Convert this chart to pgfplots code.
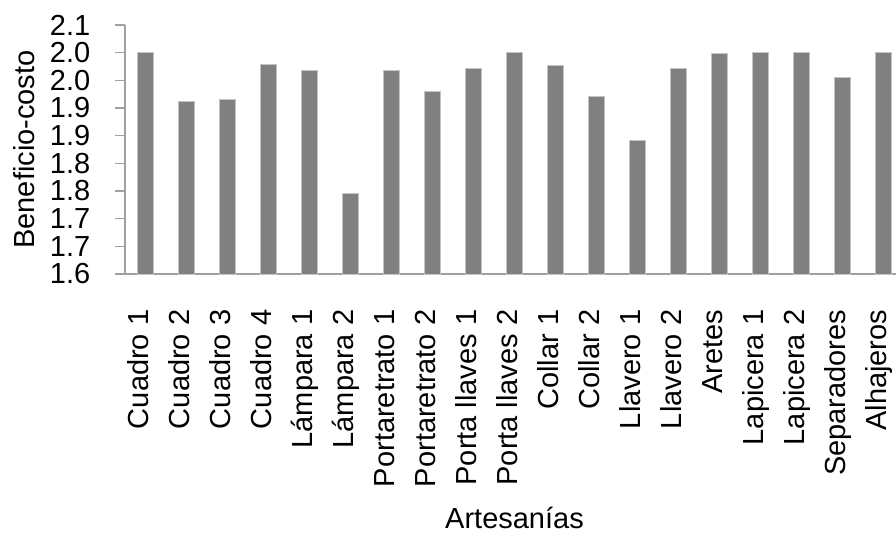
\documentclass[border=0pt]{standalone}
\usepackage{fontspec}
\setmainfont{Liberation Sans}
\usepackage{pgfplots}
\pgfplotsset{compat=1.18}
\definecolor{bargray}{HTML}{808080}
\definecolor{edgegray}{HTML}{C4C4C4}
\definecolor{axisgray}{HTML}{A0A0A0}
\begin{document}
\begin{tikzpicture}
\useasboundingbox (-125bp,-261bp) rectangle (771bp,274bp);
\clip (-125bp,-261bp) rectangle (771bp,274bp);
\begin{axis}[
  at={(0,0)}, anchor=south west,
  scale only axis, width=779bp, height=249bp,
  xmin=-0.5, xmax=18.5, ymin=1.6, ymax=2.05,
  ybar, bar width=16.4bp,
  xtick={0,...,18},
  xticklabels={Cuadro 1, Cuadro 2, Cuadro 3, Cuadro 4, Lámpara 1, Lámpara 2, Portaretrato 1, Portaretrato 2, Porta llaves 1, Porta llaves 2, Collar 1, Collar 2, Llavero 1, Llavero 2, Aretes, Lapicera 1, Lapicera 2, Separadores, Alhajeros},
  ytick={1.6,1.65,1.7,1.75,1.8,1.85,1.9,1.95,2.0,2.05},
  yticklabels={1.6,1.7,1.7,1.8,1.8,1.9,1.9,2.0,2.0,2.1},
  axis x line*=bottom, axis y line*=left,
  axis line style={axisgray, line width=1.5bp},
  tick align=outside,
  major tick length=9.5bp,
  ytick style={axisgray, line width=1.5bp},
  xtick style={draw=none},
  tick label style={font=\fontsize{29bp}{34bp}\selectfont},
  yticklabel style={anchor=east, inner sep=0pt, xshift=-25bp},
  xticklabel style={rotate=90, anchor=east, inner sep=0pt, text height=0.72em, text depth=0.21em, xshift=-26bp},
  label style={font=\fontsize{29bp}{34bp}\selectfont},
  xlabel={Artesanías}, ylabel={Beneficio-costo},
  xlabel style={at={(axis description cs:0.5,-1.024)}, anchor=base, inner sep=0pt},
  ylabel style={at={(axis description cs:-0.1168,0.5)}, anchor=base, inner sep=0pt},
]
\addplot[fill=bargray, draw=edgegray, line width=0.75bp] coordinates {
(0,2.000) (1,1.912) (2,1.916) (3,1.979) (4,1.968) (5,1.745) (6,1.968) (7,1.930) (8,1.972) (9,2.000) (10,1.977) (11,1.921) (12,1.842) (13,1.972) (14,1.998) (15,2.000) (16,2.000) (17,1.956) (18,2.000)
};
\end{axis}
\end{tikzpicture}
\end{document}
